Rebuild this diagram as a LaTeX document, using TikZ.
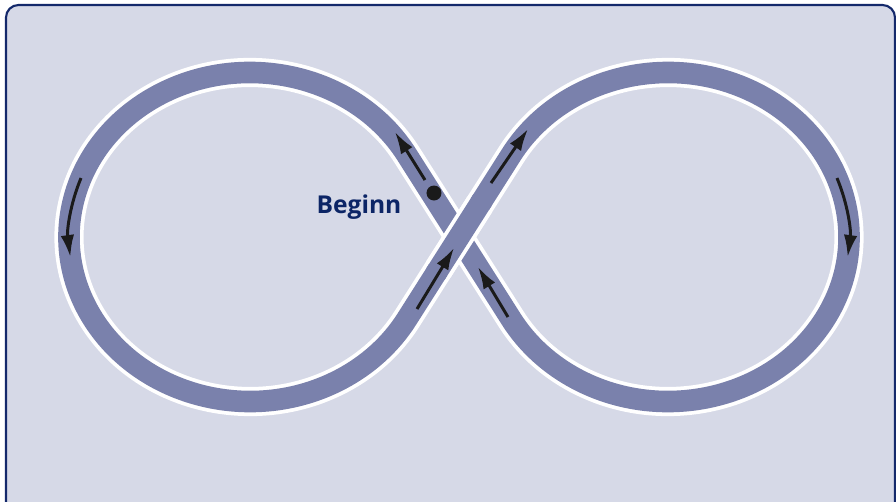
\documentclass[tikz,border=0pt]{standalone}
\usepackage{fontspec}
\setmainfont{Open Sans}
\usepackage{xcolor}
\usetikzlibrary{arrows.meta, calc}

\definecolor{panelfill}{HTML}{D6D9E7}
\definecolor{panelline}{HTML}{14296B}
\definecolor{trackblue}{HTML}{7A81AC}
\definecolor{labelblue}{HTML}{0C2566}
\definecolor{arrowblack}{HTML}{1A1A1A}

\tikzset{
    track/.style={line width=#1, line join=round},
    runarrow/.style={->, arrowblack, line width=1.7pt},
    loop/.style={x radius=181, y radius=164.5}
}

\begin{document}
\begin{tikzpicture}[x=0.02cm, y=0.02cm, >={Latex[length=0.44cm, width=0.27cm]}]
    % Rahmen
    \useasboundingbox (-459,-264) rectangle (437,237);
    \clip (-459,-264) rectangle (437,237);
    \draw[panelline, line width=1.2pt, fill=panelfill, rounded corners=0.25cm]
        (-453,-300) rectangle (436,232);

    % Kreuzung im Ursprung, Mitten der beiden Schleifen
    \coordinate (C) at (0,0);
    \coordinate (LC) at (-209,0);
    \coordinate (RC) at (209,0);
    % Beruehrpunkte der Diagonalen
    \coordinate (LT) at ([shift={(30:181 and 164.5)}]LC);
    \coordinate (LB) at ([shift={(330:181 and 164.5)}]LC);
    \coordinate (RT) at ([shift={(150:181 and 164.5)}]RC);
    \coordinate (RB) at ([shift={(210:181 and 164.5)}]RC);

    % 1. Strecke: weisser Rand, dann Band
    \foreach \w/\c in {16.6pt/white, 12.3pt/trackblue} {
        \draw[track=\w, \c] (C) -- (LT)
            arc[start angle=30, end angle=330, loop] -- (C) -- (RT)
            arc[start angle=150, end angle=-150, loop] -- cycle;
    }

    % 2. Diagonale nach oben rechts liegt oben
    \draw[line width=16.6pt, white] ($(C)!0.4!(LB)$) -- ($(C)!0.4!(RT)$);
    \draw[line width=12.3pt, trackblue] ($(C)!0.45!(LB)$) -- ($(C)!0.45!(RT)$);

    % 3. Fahrtrichtung
    \draw[runarrow] (-34,57) -- (-64,105);
    \draw[runarrow] (32,54) -- (69,108);
    \draw[runarrow] (-42,-72) -- (-5,-11);
    \draw[runarrow] (49,-80) -- (19,-30);
    \draw[runarrow] ([shift={(159:181 and 164.5)}]LC)
        arc[start angle=159, end angle=187, loop];
    \draw[runarrow] ([shift={(21:181 and 164.5)}]RC)
        arc[start angle=21, end angle=-7, loop];

    % 4. Start
    \coordinate (dot) at (-25,44);
    \fill[arrowblack] (dot) circle (7.5);
    \node[labelblue, font=\bfseries\fontsize{14}{16}\selectfont, anchor=base]
        (start) at (-100,24) {Beginn};
\end{tikzpicture}
\end{document}
